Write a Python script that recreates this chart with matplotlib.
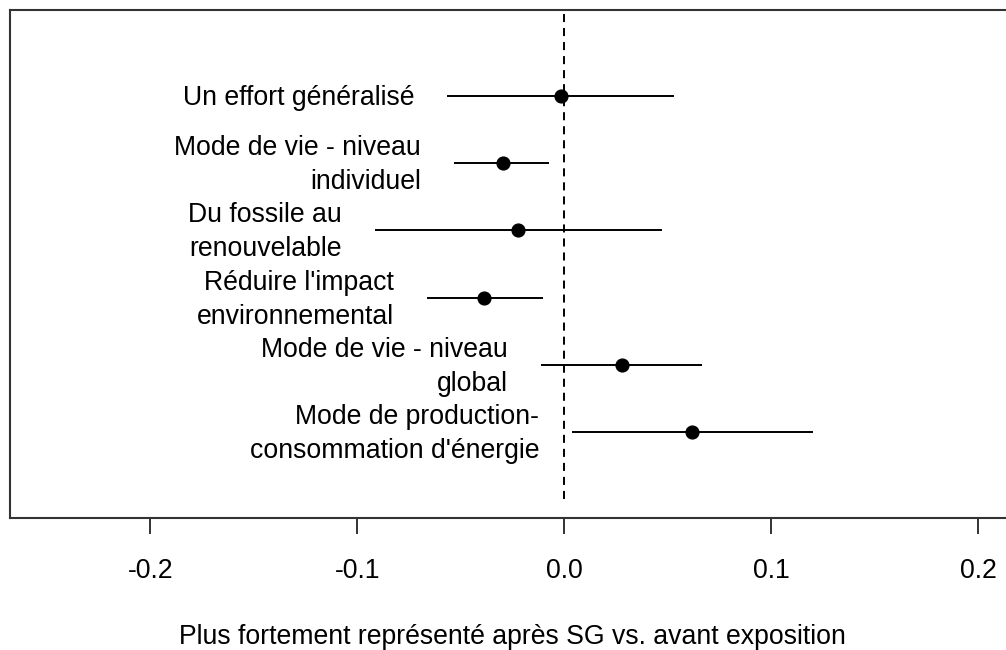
import matplotlib
matplotlib.use("Agg")
import matplotlib.pyplot as plt

labels = [
    "Un effort généralisé",
    "Mode de vie - niveau\nindividuel",
    "Du fossile au\nrenouvelable",
    "Réduire l'impact\nenvironnemental",
    "Mode de vie - niveau\nglobal",
    "Mode de production-\nconsommation d'énergie",
]
estimates = [-0.0016, -0.0298, -0.0226, -0.0387, 0.0277, 0.0619]
ci_low = [-0.0565, -0.0532, -0.0916, -0.0664, -0.0113, 0.0039]
ci_high = [0.0532, -0.0073, 0.0473, -0.0105, 0.0664, 0.1201]
xticks = [-0.2, -0.1, 0.0, 0.1, 0.2]
xtick_labels = ["-0.2", "-0.1", "0.0", "0.1", "0.2"]
xlabel = "Plus fortement représenté après SG vs. avant exposition"

plt.rcParams['font.family'] = ['Liberation Sans', 'DejaVu Sans']
plt.rcParams['lines.scale_dashes'] = False

DPI = 100
W, H = 1006, 650
fig = plt.figure(figsize=(W / DPI, H / DPI), dpi=DPI)
fig.patch.set_facecolor('white')

left_px, right_px, top_px, bottom_px = 9.5, 1015.6, 10, 518
ax = fig.add_axes([left_px / W, 1 - bottom_px / H,
                   (right_px - left_px) / W, (bottom_px - top_px) / H])

n = len(labels)
ypos = list(range(n, 0, -1))  # top row = n

FS = 19.2
for y, est, lo, hi, lab in zip(ypos, estimates, ci_low, ci_high, labels):
    ax.plot([lo, hi], [y, y], color='black', lw=1.4, solid_capstyle='butt')
    ax.plot([est], [y], 'o', color='black', markersize=9.2, zorder=3)
    ax.annotate(lab, xy=(lo, y), xytext=(-23.8, -1.5), textcoords='offset points',
                ha='right', va='center', multialignment='right',
                fontsize=FS, linespacing=1.4, color='black')

ax.set_xlim(-0.268, 0.218)
ax.set_ylim(-0.28, n + 1.28)
ax.plot([0, 0], [0, n + 1.28], color='black', lw=1.4,
        linestyle=(0, (5.8, 4.3)), zorder=1)

ax.set_xticks(xticks)
ax.set_xticklabels(xtick_labels, fontsize=FS)
ax.set_yticks([])
ax.tick_params(axis='x', length=11.5, width=1.4, pad=17.3, color='#333333')
for s in ax.spines.values():
    s.set_linewidth(1.5)
    s.set_color('#333333')
ax.set_xlabel(xlabel, fontsize=FS, labelpad=29)

fig.savefig("out.png", dpi=DPI)
